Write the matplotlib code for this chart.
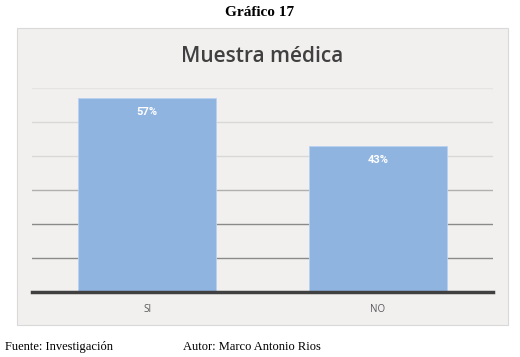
import matplotlib
matplotlib.use("Agg")
import matplotlib.pyplot as plt
from matplotlib.patches import Rectangle

W, H = 520, 357

categories = ["SI", "NO"]
values = [0.57, 0.43]
labels = ["57%", "43%"]
grid_levels = [0.1, 0.2, 0.3, 0.4, 0.5, 0.6]
grid_colors = ["#8a8a8a", "#8a8a8a", "#b0b0b0", "#d8d8d8", "#d8d8d8", "#e4e4e4"]


def px(x, y):
    # pixel coords (top-left origin) -> figure fraction
    return x / W, 1 - y / H


fig = plt.figure(figsize=(W / 100, H / 100), dpi=100)
fig.patch.set_facecolor("white")

# chart box
x0, y0 = px(17, 325)
fig.patches.append(Rectangle((x0, y0), (508 - 17) / W, (325 - 28) / H,
                             transform=fig.transFigure, facecolor="#f1f0ef",
                             edgecolor="#d9d9d9", lw=0.8, zorder=-5))

left, bottom = px(32, 292)
ax = fig.add_axes([left, bottom, (493 - 32) / W, (292 - 88) / H])
ax.set_zorder(2)
ax.set_facecolor("none")
ax.set_xlim(-0.5, len(categories) - 0.5)
ax.set_ylim(0, 0.6)

for lvl, c in zip(grid_levels, grid_colors):
    ax.axhline(lvl, color=c, lw=1.0, zorder=1)

xs = range(len(categories))
bars = ax.bar(xs, values, width=0.6, color="#8fb4e0", edgecolor="#b9d2f0",
              lw=0.6, zorder=2)
for b, lab in zip(bars, labels):
    ax.text(b.get_x() + b.get_width() / 2, b.get_height() - 0.042, lab,
            ha="center", va="center", color="white", fontsize=8,
            fontweight="bold", family="Roboto", zorder=3)

ax.axhline(0, color="#404040", lw=2.5, zorder=4, clip_on=False)

ax.set_xticks(list(xs))
ax.set_xticklabels(categories, family="Open Sans", fontsize=7, color="#595959")
ax.tick_params(axis="x", length=0, pad=9)
ax.set_yticks([])
for s in ax.spines.values():
    s.set_visible(False)

fig.text(*px(260, 12), "Gráfico 17", ha="center", va="center",
         family="Liberation Serif", fontweight="bold", fontsize=11)
fig.text(*px(262, 56), "Muestra médica", ha="center", va="center",
         family="Open Sans", fontsize=15, color="#404040", fontweight="semibold")
fig.text(*px(5, 347), "Fuente: Investigación", ha="left", va="center",
         family="Liberation Serif", fontsize=9)
fig.text(*px(183, 347), "Autor: Marco Antonio Rios", ha="left", va="center",
         family="Liberation Serif", fontsize=9)

fig.savefig("out.png", dpi=100)
